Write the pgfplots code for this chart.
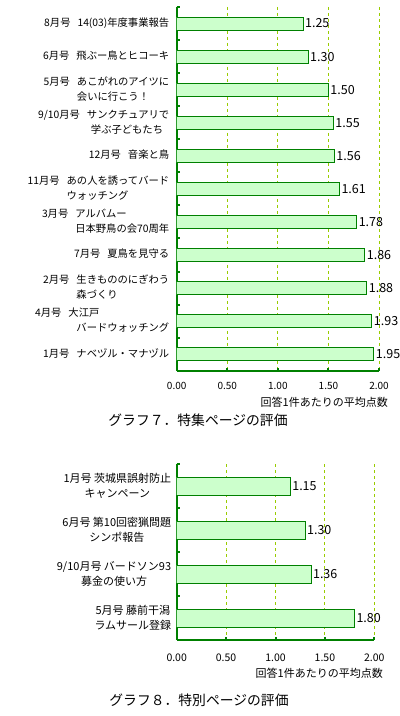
\documentclass[border=0pt]{standalone}
\usepackage{pgfplots}
\pgfplotsset{compat=1.18}
\usepackage{fontspec}
\setmainfont{Noto Sans CJK JP}
\definecolor{dg}{RGB}{0,128,0}
\definecolor{lg}{RGB}{204,255,204}
\definecolor{yg}{RGB}{153,204,0}
\pgfplotsset{
  mystyle/.style={
    scale only axis, anchor=south west,
    xbar, xmin=0, xmax=2,
    axis x line*=bottom, axis y line*=left,
    axis line style={draw=dg, line width=2bp, -},
    xtick={0,0.5,1,1.5,2},
    xticklabels={0.00,0.50,1.00,1.50,2.00},
    tick align=inside, major tick length=3bp,
    tick style={draw=dg, line width=2bp},
    xmajorgrids, grid style={draw=yg, dash pattern=on 3bp off 3bp, line width=1bp},
    y dir=reverse,
    xticklabel style={font=\fontsize{10bp}{12bp}\selectfont, anchor=center},
    point meta=x,
    nodes near coords={\pgfmathprintnumber[fixed,fixed zerofill,precision=2,assume math mode=true]{\pgfplotspointmeta}},
    nodes near coords align=horizontal,
    every node near coord/.append style={font=\fontsize{12.5bp}{12bp}\selectfont, anchor=west, inner sep=1.5bp, text=black},
    extra y tick style={major tick length=0pt, grid=none},
  }
}
\begin{document}
\begin{tikzpicture}[x=1bp,y=1bp]
\path[use as bounding box] (0,0) rectangle (399,716);
% ---------- Graph 7 ----------
\begin{axis}[mystyle,
  at={(176.7bp,345.3bp)}, width=202.3bp, height=363.7bp,
  ymin=-0.5, ymax=10.5,
  ytick={-0.5,0.5,...,10.5}, yticklabels={},
  xticklabel style={yshift=-15.3bp},
  extra y ticks={0,1,2,3,4,5,6,7,8,9,10},
  extra y tick labels={
    {\begin{tabular}{@{}l@{\hspace{7bp}}l@{}}8月号&14(03)年度事業報告\end{tabular}},
    {\begin{tabular}{@{}l@{\hspace{7bp}}l@{}}6月号&飛ぶー鳥とヒコーキ\end{tabular}},
    {\begin{tabular}{@{}l@{\hspace{7bp}}l@{}}5月号&あこがれのアイツに\\&会いに行こう！\end{tabular}},
    {\begin{tabular}{@{}l@{\hspace{7bp}}l@{}}9/10月号&サンクチュアリで\\&\hspace{4bp}学ぶ子どもたち\end{tabular}},
    {\begin{tabular}{@{}l@{\hspace{7bp}}l@{}}12月号&音楽と鳥\end{tabular}},
    {\begin{tabular}{@{}l@{\hspace{7bp}}l@{}}11月号&あの人を誘ってバード\\&ウォッチング\end{tabular}},
    {\begin{tabular}{@{}l@{\hspace{7bp}}l@{}}3月号&アルバムー\\&日本野鳥の会70周年\end{tabular}},
    {\begin{tabular}{@{}l@{\hspace{7bp}}l@{}}7月号&夏鳥を見守る\end{tabular}},
    {\begin{tabular}{@{}l@{\hspace{7bp}}l@{}}2月号&生きもののにぎわう\\&森づくり\end{tabular}},
    {\begin{tabular}{@{}l@{\hspace{7bp}}l@{}}4月号&大江戸\\&\hspace{8bp}バードウォッチング\end{tabular}},
    {\begin{tabular}{@{}l@{\hspace{7bp}}l@{}}1月号&ナベヅル・マナヅル\end{tabular}}},
  extra y tick style={yticklabel style={font=\fontsize{10.3bp}{15bp}\selectfont, xshift=-4bp}},
  bar width=13bp,
]
\addplot[fill=lg, draw=dg, line width=1bp] coordinates {
  (1.25,0) (1.30,1) (1.50,2) (1.55,3) (1.56,4) (1.61,5)
  (1.78,6) (1.86,7) (1.88,8) (1.93,9) (1.95,10)};
\end{axis}
\node[anchor=east, font=\fontsize{11bp}{11bp}\selectfont, inner sep=0pt] at (388,314) {回答1件あたりの平均点数};
\node[font=\fontsize{13.8bp}{14bp}\selectfont, inner sep=0pt] at (198,296) {グラフ７．特集ページの評価};
% ---------- Graph 8 ----------
\begin{axis}[mystyle,
  at={(176.7bp,76bp)}, width=197.6bp, height=176bp,
  ymin=-0.5, ymax=3.5,
  ytick={-0.5,0.5,...,3.5}, yticklabels={},
  xticklabel style={yshift=-18bp, font=\fontsize{10.5bp}{12bp}\selectfont},
  extra y ticks={0,1,2,3},
  extra y tick labels={
    {1月号 茨城県誤射防止\\キャンペーン},
    {6月号 第10回密猟問題\\シンポ報告},
    {9/10月号 バードソン93\\募金の使い方},
    {5月号 藤前干潟\\ラムサール登録}},
  extra y tick style={yticklabel style={font=\fontsize{11bp}{14.5bp}\selectfont, align=center, xshift=-2bp}},
  bar width=18bp,
]
\addplot[fill=lg, draw=dg, line width=1bp] coordinates {
  (1.15,0) (1.30,1) (1.36,2) (1.80,3)};
\end{axis}
\node[anchor=east, font=\fontsize{11bp}{11bp}\selectfont, inner sep=0pt] at (383,42.7) {回答1件あたりの平均点数};
\node[font=\fontsize{13.8bp}{14bp}\selectfont, inner sep=0pt] at (199,15.3) {グラフ８．特別ページの評価};
\end{tikzpicture}
\end{document}
